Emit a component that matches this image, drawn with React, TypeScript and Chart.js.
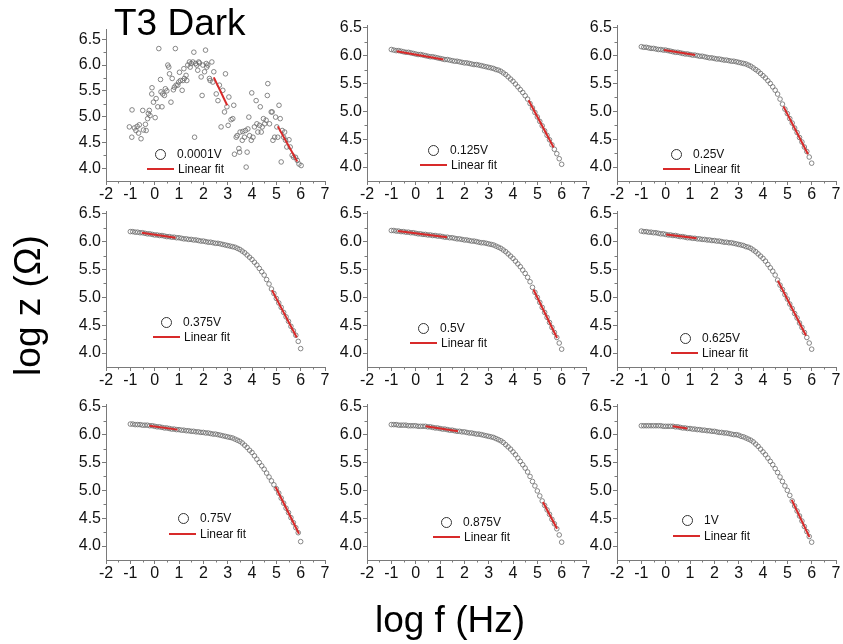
import React, { useEffect, useRef } from "react";
import { Chart, registerables } from "chart.js";

Chart.register(...registerables);

// ---------------- data ----------------
const X_TICKS = [-2, -1, 0, 1, 2, 3, 4, 5, 6, 7];
const X_MINOR = [-1.5, -0.5, 0.5, 1.5, 2.5, 3.5, 4.5, 5.5, 6.5];
const Y_TICKS = [4.0, 4.5, 5.0, 5.5, 6.0, 6.5];
const Y_MINOR = [4.25, 4.75, 5.25, 5.75, 6.25];

const voltages = ["0.0001V", "0.125V", "0.25V", "0.375V", "0.5V", "0.625V", "0.75V", "0.875V", "1V"];

const logF = [
  -1.0, -0.9, -0.8, -0.7, -0.6, -0.5, -0.4, -0.3, -0.2, -0.1,
  0.0, 0.1, 0.2, 0.3, 0.4, 0.5, 0.6, 0.7, 0.8, 0.9,
  1.0, 1.1, 1.2, 1.3, 1.4, 1.5, 1.6, 1.7, 1.8, 1.9,
  2.0, 2.1, 2.2, 2.3, 2.4, 2.5, 2.6, 2.7, 2.8, 2.9,
  3.0, 3.1, 3.2, 3.3, 3.4, 3.5, 3.6, 3.7, 3.8, 3.9,
  4.0, 4.1, 4.2, 4.3, 4.4, 4.5, 4.6, 4.7, 4.8, 4.9,
  5.0, 5.1, 5.2, 5.3, 5.4, 5.5, 5.6, 5.7, 5.8, 5.9,
  6.0,
];

// 0.0001 V (noisy)
const p1LogF = [
  -1.04, -0.94, -0.93, -0.83, -0.77, -0.72, -0.66, -0.63, -0.56, -0.49, -0.46, -0.38, -0.35, -0.29, -0.26, -0.22, -0.19, -0.12, -0.11, -0.05, 0.02, 0.06,
  0.13, 0.17, 0.24, 0.26, 0.30, 0.33, 0.40, 0.44, 0.50, 0.54, 0.58, 0.61, 0.67, 0.72, 0.77, 0.81, 0.85, 0.88, 0.95, 0.99, 1.02, 1.06, 1.13, 1.16, 1.20, 1.22, 1.29,
  1.32, 1.36, 1.43, 1.46, 1.50, 1.57, 1.61, 1.64, 1.68, 1.73, 1.77, 1.81, 1.84, 1.91, 1.95, 1.98, 2.05, 2.09, 2.12, 2.14, 2.18, 2.25, 2.28, 2.35, 2.39, 2.43,
  2.53, 2.60, 2.66, 2.73, 2.80, 2.87, 2.91, 2.97, 3.02, 3.05, 3.14, 3.21, 3.25, 3.28, 3.35, 3.39, 3.46, 3.49, 3.51, 3.60, 3.62, 3.69, 3.73, 3.76, 3.80, 3.83, 3.87, 3.90,
  3.97, 3.99, 4.04, 4.10, 4.17, 4.20, 4.24, 4.31, 4.34, 4.38, 4.42, 4.47, 4.52, 4.58, 4.63, 4.65, 4.72, 4.79, 4.83, 4.86, 4.93, 4.97, 5.02, 5.06, 5.11, 5.16, 5.20, 5.24, 5.30, 5.34, 5.38, 5.43, 5.52, 5.57, 5.65, 5.71, 5.79, 5.86, 5.93, 6.02,
];
const p1LogZ = [
  4.80, 4.60, 5.13, 4.78, 4.73, 4.81, 4.68, 4.84, 4.57, 5.12, 4.74, 4.85, 4.73, 4.96, 5.06, 5.12, 5.02, 5.44, 5.56, 5.28, 4.98, 5.35,
  5.19, 6.32, 5.72, 5.48, 5.19, 5.44, 5.41, 5.54, 5.50, 6.00, 5.96, 5.83, 5.28, 5.74, 5.52, 5.57, 6.32, 5.61, 5.61, 5.67, 5.86, 5.70, 5.51, 5.70, 5.93, 5.74, 5.80,
  5.70, 6.00, 6.06, 5.96, 6.03, 6.06, 6.25, 4.60, 6.03, 6.00, 5.90, 6.06, 6.04, 5.77, 5.41, 6.00, 5.87, 6.29, 6.03, 5.96, 6.00, 5.74, 5.70, 6.06, 5.67, 5.87,
  5.44, 5.31, 5.61, 4.80, 5.51, 5.09, 5.83, 5.19, 4.83, 5.38, 4.94, 4.96, 5.22, 4.27, 4.60, 4.63, 4.38, 4.31, 4.70, 4.54, 4.71, 4.60, 4.73, 4.02, 4.31, 4.76, 4.99, 4.63,
  4.54, 5.46, 4.60, 4.80, 5.31, 4.86, 4.70, 4.83, 5.19, 4.70, 4.80, 4.96, 4.86, 4.93, 5.41, 5.64, 4.86, 5.09, 5.09, 4.54, 4.60, 4.99, 4.80, 4.60, 5.22, 4.96, 4.12, 4.73, 4.60, 4.70, 4.54, 4.41, 4.55, 4.41, 4.25, 4.21, 4.21, 4.15, 4.08, 4.05,
];

const logZ0125 = [
  6.11, 6.10, 6.09, 6.09, 6.08, 6.07, 6.06, 6.06, 6.05, 6.04,
  6.03, 6.02, 6.02, 6.01, 6.00, 5.99, 5.98, 5.98, 5.97, 5.96,
  5.95, 5.94, 5.93, 5.93, 5.92, 5.91, 5.90, 5.90, 5.89, 5.88,
  5.87, 5.87, 5.86, 5.85, 5.84, 5.84, 5.83, 5.82, 5.81, 5.80,
  5.79, 5.78, 5.77, 5.75, 5.74, 5.72, 5.69, 5.66, 5.62, 5.58,
  5.54, 5.49, 5.44, 5.39, 5.34, 5.28, 5.22, 5.14, 5.06, 4.98,
  4.90, 4.82, 4.74, 4.65, 4.57, 4.49, 4.40, 4.32, 4.24, 4.15,
  4.05,
];
const logZ025 = [
  6.16, 6.15, 6.15, 6.14, 6.13, 6.13, 6.12, 6.11, 6.11, 6.10,
  6.10, 6.09, 6.08, 6.07, 6.06, 6.06, 6.05, 6.04, 6.03, 6.03,
  6.02, 6.01, 6.01, 6.00, 5.99, 5.99, 5.98, 5.97, 5.96, 5.96,
  5.95, 5.94, 5.94, 5.93, 5.92, 5.92, 5.91, 5.90, 5.90, 5.89,
  5.88, 5.87, 5.86, 5.85, 5.83, 5.81, 5.78, 5.75, 5.72, 5.68,
  5.64, 5.60, 5.55, 5.50, 5.44, 5.38, 5.31, 5.22, 5.13, 5.04,
  4.96, 4.87, 4.79, 4.70, 4.62, 4.53, 4.45, 4.36, 4.28, 4.18,
  4.07,
];
const logZ0375 = [
  6.18, 6.18, 6.17, 6.17, 6.16, 6.16, 6.15, 6.14, 6.14, 6.13,
  6.12, 6.12, 6.11, 6.11, 6.10, 6.09, 6.09, 6.08, 6.08, 6.07,
  6.07, 6.06, 6.05, 6.05, 6.04, 6.04, 6.03, 6.03, 6.02, 6.01,
  6.01, 6.00, 5.99, 5.99, 5.98, 5.97, 5.97, 5.96, 5.95, 5.94,
  5.93, 5.92, 5.91, 5.90, 5.88, 5.86, 5.83, 5.80, 5.76, 5.72,
  5.68, 5.63, 5.58, 5.52, 5.46, 5.40, 5.32, 5.24, 5.15, 5.07,
  4.98, 4.90, 4.82, 4.73, 4.65, 4.57, 4.48, 4.40, 4.32, 4.21,
  4.08,
];
const logZ05 = [
  6.20, 6.20, 6.19, 6.19, 6.18, 6.18, 6.17, 6.17, 6.16, 6.16,
  6.15, 6.14, 6.14, 6.13, 6.13, 6.12, 6.12, 6.11, 6.11, 6.10,
  6.10, 6.09, 6.08, 6.08, 6.07, 6.07, 6.06, 6.05, 6.05, 6.04,
  6.03, 6.03, 6.02, 6.01, 6.01, 6.00, 5.99, 5.98, 5.98, 5.97,
  5.96, 5.95, 5.94, 5.92, 5.90, 5.88, 5.85, 5.82, 5.78, 5.74,
  5.70, 5.65, 5.60, 5.55, 5.49, 5.43, 5.36, 5.28, 5.18, 5.09,
  5.00, 4.91, 4.82, 4.73, 4.64, 4.55, 4.46, 4.37, 4.28, 4.18,
  4.07,
];
const logZ0625 = [
  6.19, 6.18, 6.18, 6.17, 6.17, 6.16, 6.16, 6.15, 6.14, 6.14,
  6.13, 6.12, 6.12, 6.11, 6.11, 6.10, 6.09, 6.09, 6.08, 6.07,
  6.07, 6.06, 6.06, 6.05, 6.05, 6.04, 6.04, 6.03, 6.03, 6.02,
  6.02, 6.01, 6.01, 6.00, 5.99, 5.99, 5.98, 5.98, 5.97, 5.96,
  5.95, 5.94, 5.93, 5.91, 5.90, 5.88, 5.85, 5.82, 5.78, 5.74,
  5.70, 5.65, 5.59, 5.53, 5.47, 5.40, 5.31, 5.22, 5.14, 5.05,
  4.97, 4.88, 4.80, 4.71, 4.63, 4.54, 4.46, 4.37, 4.28, 4.18,
  4.07,
];
const logZ075 = [
  6.19, 6.19, 6.18, 6.18, 6.18, 6.17, 6.17, 6.17, 6.16, 6.16,
  6.15, 6.14, 6.14, 6.13, 6.12, 6.12, 6.11, 6.10, 6.10, 6.09,
  6.09, 6.08, 6.08, 6.07, 6.07, 6.06, 6.06, 6.05, 6.05, 6.04,
  6.04, 6.03, 6.03, 6.02, 6.01, 6.01, 6.00, 5.99, 5.98, 5.97,
  5.96, 5.95, 5.94, 5.92, 5.90, 5.88, 5.85, 5.81, 5.77, 5.72,
  5.68, 5.62, 5.56, 5.50, 5.44, 5.38, 5.31, 5.24, 5.17, 5.10,
  5.03, 4.95, 4.86, 4.77, 4.68, 4.60, 4.51, 4.42, 4.33, 4.24,
  4.08,
];
const logZ0875 = [
  6.18, 6.18, 6.18, 6.17, 6.17, 6.17, 6.17, 6.16, 6.16, 6.16,
  6.16, 6.15, 6.15, 6.15, 6.15, 6.14, 6.14, 6.13, 6.12, 6.12,
  6.11, 6.10, 6.10, 6.09, 6.08, 6.08, 6.07, 6.06, 6.06, 6.05,
  6.05, 6.04, 6.03, 6.03, 6.02, 6.01, 6.01, 6.00, 5.99, 5.98,
  5.97, 5.96, 5.95, 5.93, 5.91, 5.89, 5.86, 5.82, 5.78, 5.74,
  5.69, 5.64, 5.58, 5.52, 5.46, 5.40, 5.33, 5.25, 5.16, 5.08,
  4.99, 4.90, 4.81, 4.73, 4.65, 4.57, 4.48, 4.40, 4.31, 4.20,
  4.07,
];
const logZ1 = [
  6.16, 6.16, 6.16, 6.16, 6.16, 6.16, 6.16, 6.16, 6.16, 6.15,
  6.15, 6.15, 6.15, 6.15, 6.14, 6.14, 6.13, 6.12, 6.12, 6.11,
  6.11, 6.10, 6.10, 6.09, 6.09, 6.08, 6.08, 6.07, 6.07, 6.06,
  6.06, 6.05, 6.04, 6.04, 6.03, 6.03, 6.02, 6.01, 6.00, 6.00,
  5.99, 5.97, 5.96, 5.94, 5.92, 5.90, 5.87, 5.83, 5.79, 5.74,
  5.69, 5.64, 5.58, 5.52, 5.46, 5.39, 5.32, 5.24, 5.16, 5.08,
  5.00, 4.91, 4.81, 4.72, 4.63, 4.54, 4.45, 4.35, 4.26, 4.17,
  4.07,
];

// linear fits: [start, end]
const fitAX = [[2.43, 2.98], [-0.78, 1.14], [-0.07, 1.21], [-0.53, 0.86], [-0.74, 1.29], [0.02, 1.27], [-0.22, 0.94], [0.41, 1.74], [0.29, 0.89]];
const fitAY = [[5.76, 5.22], [6.08, 5.93], [6.10, 6.01], [6.16, 6.07], [6.19, 6.08], [6.13, 6.06], [6.16, 6.09], [6.15, 6.06], [6.15, 6.11]];
const fitBX = [[5.06, 5.86], [4.64, 5.67], [4.84, 5.85], [4.82, 5.84], [4.84, 5.81], [4.61, 5.77], [4.97, 5.93], [5.23, 5.81], [5.18, 5.91]];
const fitBY = [[4.81, 4.13], [5.20, 4.35], [5.09, 4.23], [5.13, 4.28], [5.14, 4.27], [5.30, 4.31], [5.06, 4.22], [4.79, 4.31], [4.83, 4.16]];

// ---------------- layout / style ----------------
const FONT = '"Liberation Sans", Arial, Helvetica, sans-serif';
const AXIS = "#7a7a7a";
const MARK = "#6a6a6a";
const RED = "#d82a2a";
const PAD_L = 50;
const PAD_T = 16;
const PAD_R = 14;
const PAD_B = 32;

const panelRects = [
  { left: 106, right: 325, top: 29, bottom: 181, ymax: 6.7 },
  { left: 367, right: 586, top: 25, bottom: 181, ymax: 6.55 },
  { left: 617, right: 836, top: 25, bottom: 181, ymax: 6.55 },
  { left: 106, right: 325, top: 211, bottom: 367, ymax: 6.55 },
  { left: 367, right: 586, top: 211, bottom: 367, ymax: 6.55 },
  { left: 617, right: 836, top: 211, bottom: 367, ymax: 6.55 },
  { left: 106, right: 325, top: 404, bottom: 560, ymax: 6.55 },
  { left: 367, right: 586, top: 404, bottom: 560, ymax: 6.55 },
  { left: 617, right: 836, top: 404, bottom: 560, ymax: 6.55 },
];

const legendPos = [
  { cx: 160, cy: 154, lx: 147, ly: 169 },
  { cx: 433, cy: 150, lx: 420, ly: 165 },
  { cx: 676, cy: 154, lx: 663, ly: 169 },
  { cx: 166, cy: 322, lx: 153, ly: 337 },
  { cx: 423, cy: 328, lx: 410, ly: 343 },
  { cx: 685, cy: 338, lx: 671, ly: 353 },
  { cx: 183, cy: 518, lx: 169, ly: 534 },
  { cx: 446, cy: 522, lx: 433, ly: 537 },
  { cx: 687, cy: 520, lx: 673, ly: 536 },
];

function seriesFor(idx: number): { x: number; y: number }[] {
  if (idx === 0) {
    const n = Math.min(p1LogF.length, p1LogZ.length);
    const out: { x: number; y: number }[] = [];
    for (let i = 0; i < n; i++) out.push({ x: p1LogF[i], y: p1LogZ[i] });
    return out;
  }
  const zs = [logZ0125, logZ025, logZ0375, logZ05, logZ0625, logZ075, logZ0875, logZ1][idx - 1];
  return zs.map((z, i) => ({ x: logF[i], y: z }));
}

const minorTicks = {
  id: "minorTicks",
  afterDraw(chart: any) {
    const { ctx, scales } = chart;
    const x = scales.x;
    const y = scales.y;
    ctx.save();
    ctx.strokeStyle = AXIS;
    ctx.lineWidth = 1;
    ctx.beginPath();
    X_MINOR.forEach((v) => {
      const px = Math.round(x.getPixelForValue(v)) + 0.5;
      ctx.moveTo(px, y.bottom);
      ctx.lineTo(px, y.bottom + 2.5);
    });
    Y_MINOR.forEach((v) => {
      const py = Math.round(y.getPixelForValue(v)) + 0.5;
      ctx.moveTo(x.left, py);
      ctx.lineTo(x.left - 2.5, py);
    });
    ctx.stroke();
    ctx.restore();
  },
};

function Panel({ idx }: { idx: number }) {
  const ref = useRef<HTMLCanvasElement>(null);
  const r = panelRects[idx];
  const w = r.right - r.left + PAD_L + PAD_R;
  const h = r.bottom - r.top + PAD_T + PAD_B;

  useEffect(() => {
    if (!ref.current) return;
    const tickFont = { family: FONT, size: 16 };
    const chart = new Chart(ref.current, {
      type: "scatter",
      data: {
        datasets: [
          {
            type: "line",
            data: [
              { x: fitAX[idx][0], y: fitAY[idx][0] },
              { x: fitAX[idx][1], y: fitAY[idx][1] },
            ],
            borderColor: RED,
            borderWidth: 2,
            pointRadius: 0,
            fill: false,
            order: 1,
          } as any,
          {
            type: "line",
            data: [
              { x: fitBX[idx][0], y: fitBY[idx][0] },
              { x: fitBX[idx][1], y: fitBY[idx][1] },
            ],
            borderColor: RED,
            borderWidth: 2,
            pointRadius: 0,
            fill: false,
            order: 1,
          } as any,
          {
            type: "scatter",
            data: seriesFor(idx),
            pointRadius: 2.3,
            pointBorderWidth: 0.8,
            borderColor: MARK,
            backgroundColor: "rgba(255,255,255,0)",
            order: 2,
          } as any,
        ],
      },
      options: {
        responsive: false,
        animation: false,
        devicePixelRatio: 1,
        events: [],
        layout: { padding: { left: 0, top: PAD_T, right: PAD_R, bottom: 0 } },
        plugins: { legend: { display: false }, tooltip: { enabled: false } },
        scales: {
          x: {
            type: "linear",
            min: -2,
            max: 7,
            afterFit: (s: any) => {
              s.height = PAD_B;
            },
            afterBuildTicks: (s: any) => {
              s.ticks = X_TICKS.map((v) => ({ value: v }));
            },
            ticks: {
              font: tickFont,
              color: "#111",
              padding: 0,
              maxRotation: 0,
              autoSkip: false,
              callback: (v: any) => String(v),
            },
            grid: { display: true, drawOnChartArea: false, drawTicks: true, tickLength: 4, tickColor: AXIS },
            border: { display: true, color: AXIS, width: 1 },
          },
          y: {
            type: "linear",
            min: 3.75,
            max: r.ymax,
            afterFit: (s: any) => {
              s.width = PAD_L;
            },
            afterBuildTicks: (s: any) => {
              s.ticks = Y_TICKS.map((v) => ({ value: v }));
            },
            ticks: {
              font: tickFont,
              color: "#111",
              padding: 1,
              autoSkip: false,
              callback: (v: any) => Number(v).toFixed(1),
            },
            grid: { display: true, drawOnChartArea: false, drawTicks: true, tickLength: 4, tickColor: AXIS },
            border: { display: true, color: AXIS, width: 1 },
          },
        },
      } as any,
      plugins: [minorTicks],
    });
    return () => chart.destroy();
  }, [idx]);

  return (
    <canvas
      ref={ref}
      width={w}
      height={h}
      style={{ position: "absolute", left: r.left - PAD_L, top: r.top - PAD_T, width: w, height: h }}
    />
  );
}

function Legend({ idx }: { idx: number }) {
  const p = legendPos[idx];
  const text: React.CSSProperties = {
    position: "absolute",
    fontFamily: FONT,
    fontSize: 12,
    lineHeight: "14px",
    color: "#111",
    whiteSpace: "nowrap",
  };
  return (
    <>
      <div
        style={{
          position: "absolute",
          left: p.cx - 5.5,
          top: p.cy - 5.5,
          width: 11,
          height: 11,
          boxSizing: "border-box",
          border: "1px solid #333",
          borderRadius: "50%",
        }}
      />
      <div style={{ ...text, left: p.cx + 17, top: p.cy - 7 }}>{voltages[idx]}</div>
      <div style={{ position: "absolute", left: p.lx, top: p.ly - 1, width: 27, height: 2, background: RED }} />
      <div style={{ ...text, left: p.lx + 31, top: p.ly - 7 }}>Linear fit</div>
    </>
  );
}

export default function App() {
  const big: React.CSSProperties = {
    position: "absolute",
    fontFamily: FONT,
    fontSize: 37,
    lineHeight: "37px",
    color: "#000",
    whiteSpace: "nowrap",
  };
  return (
    <div
      style={{
        position: "absolute",
        left: 0,
        top: 0,
        width: 843,
        height: 644,
        overflow: "hidden",
        background: "#fff",
      }}
    >
      {panelRects.map((_, i) => (
        <Panel key={i} idx={i} />
      ))}
      {legendPos.map((_, i) => (
        <Legend key={"l" + i} idx={i} />
      ))}
      <div style={{ ...big, left: 114, top: 4 }}>T3 Dark</div>
      <div style={{ ...big, left: 350, top: 601, width: 200, textAlign: "center" }}>log f (Hz)</div>
      <div
        style={{
          ...big,
          left: 27 - 100,
          top: 305 - 18.5,
          width: 200,
          textAlign: "center",
          transform: "rotate(-90deg)",
          transformOrigin: "50% 50%",
        }}
      >
        log z (Ω)
      </div>
    </div>
  );
}
